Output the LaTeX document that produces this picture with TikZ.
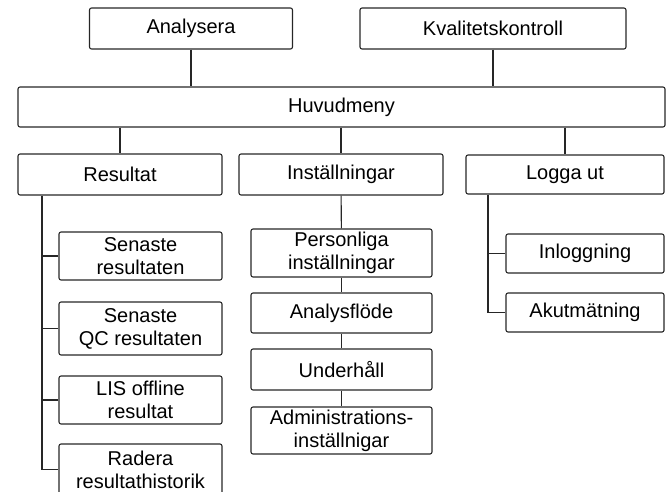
\documentclass[tikz,border=0pt]{standalone}
\usepackage{fontspec}
\setmainfont{Liberation Sans}
\usetikzlibrary{positioning,calc}
\newcommand{\menufont}{\fontsize{20}{23}\selectfont}

\begin{document}
\begin{tikzpicture}[x=1pt,y=-1pt,font=\menufont,
  menubox/.style={draw=black!85,line width=1.1pt,rounded corners=2pt,align=center,inner sep=0pt},
  link/.style={draw=black!85,line width=1.1pt}]
  \useasboundingbox (0,0) rectangle (667,491);
  % top level
  \node[menubox,minimum width=203pt,minimum height=41pt] (ana) at (191,28.5) {Analysera};
  \node[menubox,minimum width=266pt,minimum height=41pt] (kval) at (493,28.5) {Kvalitetskontroll};
  \node[menubox,minimum width=647pt,minimum height=40pt] (huvud) at (341.5,107) {Huvudmeny};
  \draw[link] (ana) -- (ana |- huvud.north);
  \draw[link] (kval) -- (kval |- huvud.north);
  % second level
  \node[menubox,minimum width=204pt,minimum height=41pt] (res) at (120,174.5) {Resultat};
  \node[menubox,minimum width=204pt,minimum height=41pt] (inst) at (341,174.5) {Inställningar};
  \node[menubox,minimum width=198pt,minimum height=39pt] (logga) at (565,174.5) {Logga ut};
  \foreach \n in {res,inst,logga} { \draw[link] (huvud.south -| \n) -- (\n.north); }
  % Resultat
  \coordinate (restrunk) at (42,0);
  \foreach \n/\y/\h/\txt in {sr/256/48/{Senaste\\resultaten},qc/328.5/53/{Senaste\\QC resultaten},
      lis/400/48/{LIS offline\\resultat},rad/469.5/51/{Radera\\resultathistorik}} {
    \node[menubox,minimum width=163pt,minimum height=\h pt] (\n) at (140.5,\y) {\txt};
    \draw[link] (\n.west) -- (\n.west -| restrunk);
  }
  \draw[link] (res.south -| restrunk) |- (rad.west);
  % Installningar
  \foreach \n/\y/\h/\txt in {pers/253/48/{Personliga\\inställningar},flow/313/40/{Analysflöde},
      uh/369.5/41/{Underhåll},adm/430.5/47/{Administrations-\\inställnigar}} {
    \node[menubox,minimum width=181pt,minimum height=\h pt] (\n) at (341.5,\y) {\txt};
  }
  \draw[link] (inst) -- (pers);
  \draw[link] (pers) -- (flow);
  \draw[link] (flow) -- (uh);
  \draw[link] (uh) -- (adm);
  % Logga ut
  \coordinate (loggatrunk) at (488,0);
  \foreach \n/\y/\txt in {inl/253.5/Inloggning,akut/312.5/Akutmätning} {
    \node[menubox,minimum width=158pt,minimum height=39pt] (\n) at (585,\y) {\txt};
    \draw[link] (\n.west) -- (\n.west -| loggatrunk);
  }
  \draw[link] (logga.south -| loggatrunk) |- (akut.west);
\end{tikzpicture}
\end{document}
